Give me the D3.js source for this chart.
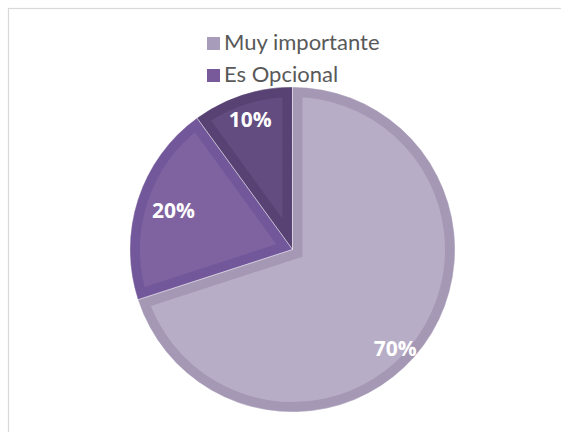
<!DOCTYPE html>
<html>
<head>
<meta charset="utf-8">
<script src="https://cdn.jsdelivr.net/npm/d3@7"></script>
<style>
  body { margin: 0; background: #fff; }
  svg { display: block; }
</style>
</head>
<body>
<div id="chart"></div>
<script>
// data
const categories = ["Muy importante", "Es Opcional", "(oculta)"];
const values = [70, 20, 10];
const showInLegend = [true, true, false];

// colours: inner fill and darker border band per slice
const fills = ["#b8adc7", "#7f62a0", "#634c80"];
const bands = ["#a498b5", "#72579a", "#574273"];
const swatches = ["#a79cb9", "#785a9b", "#574273"];

const width = 561, height = 432;
const cx = 292.5, cy = 249.5, radius = 162.5;
const bandWidth = 10;

const svg = d3.select("#chart")
  .append("svg")
  .attr("width", width)
  .attr("height", height);

// chart area border
svg.append("rect")
  .attr("x", 8.5).attr("y", 8.5)
  .attr("width", width).attr("height", height)
  .attr("fill", "#fff")
  .attr("stroke", "#d9d9d9")
  .attr("stroke-width", 1.2);

// legend
const legend = svg.append("g").attr("transform", "translate(207,37)");
const legendItems = categories
  .map((c, i) => ({ name: c, i: i }))
  .filter(d => showInLegend[d.i]);

legend.selectAll("rect")
  .data(legendItems)
  .join("rect")
  .attr("x", 0)
  .attr("y", (d, k) => k * 32)
  .attr("width", 13)
  .attr("height", 13)
  .attr("fill", d => swatches[d.i]);

legend.selectAll("text")
  .data(legendItems)
  .join("text")
  .attr("x", 17)
  .attr("y", (d, k) => k * 32 + 12.5)
  .attr("font-family", "Lato, 'Open Sans', sans-serif")
  .attr("font-size", 22)
  .attr("fill", "#595959")
  .text(d => d.name);

// pie
const pie = d3.pie().sort(null).value(d => d)(values);
const arc = d3.arc().innerRadius(0).outerRadius(radius);

const g = svg.append("g").attr("transform", `translate(${cx},${cy})`);
const defs = svg.append("defs");

defs.selectAll("clipPath")
  .data(pie)
  .join("clipPath")
  .attr("id", (d, i) => "clip" + i)
  .append("path")
  .attr("d", arc);

g.selectAll("path.slice")
  .data(pie)
  .join("path")
  .attr("class", "slice")
  .attr("d", arc)
  .attr("fill", (d, i) => fills[i])
  .attr("stroke", (d, i) => bands[i])
  .attr("stroke-width", bandWidth * 2)
  .attr("stroke-linejoin", "miter")
  .attr("clip-path", (d, i) => `url(#clip${i})`);

// thin separating edge
g.selectAll("path.edge")
  .data(pie)
  .join("path")
  .attr("class", "edge")
  .attr("d", arc)
  .attr("fill", "none")
  .attr("stroke", "#ffffff")
  .attr("stroke-opacity", 0.35)
  .attr("stroke-width", 1);

// data labels
const labelRadius = [0.88, 0.77, 0.84];
const labelAngleShift = [0.14, 0, 0];
g.selectAll("text")
  .data(pie)
  .join("text")
  .attr("transform", (d, i) => {
    const a = (d.startAngle + d.endAngle) / 2 + labelAngleShift[i];
    const r = radius * labelRadius[i];
    return `translate(${Math.sin(a) * r},${-Math.cos(a) * r})`;
  })
  .attr("text-anchor", "middle")
  .attr("dy", "0.36em")
  .attr("font-family", "'Open Sans', sans-serif")
  .attr("font-weight", "bold")
  .attr("font-size", 21)
  .attr("fill", "#ffffff")
  .text(d => d.value + "%");
</script>
</body>
</html>
